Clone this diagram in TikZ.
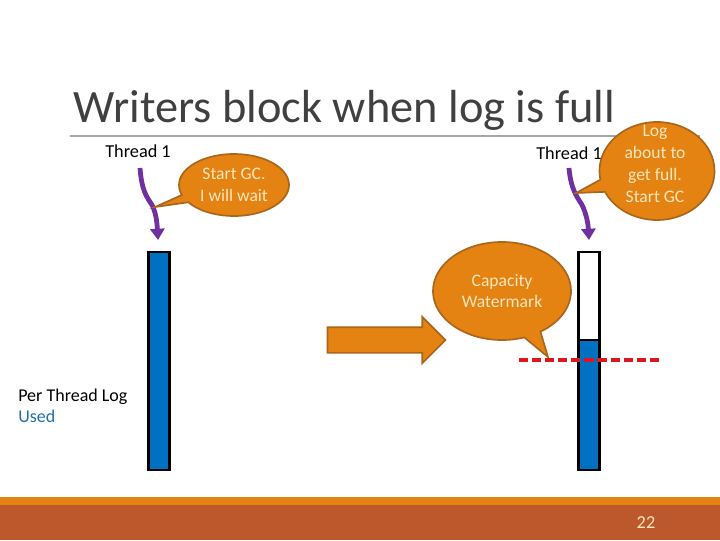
\documentclass[tikz,border=0pt]{standalone}
\usepackage{fontspec}
\setmainfont{Carlito}
\usepackage{tikz}
\usetikzlibrary{arrows.meta, shapes.callouts, shapes.arrows}
\definecolor{accent}{HTML}{E48312}
\definecolor{accentdark}{HTML}{A9661C}
\definecolor{band}{HTML}{BD582C}
\definecolor{logblue}{HTML}{0070C0}
\definecolor{wave}{HTML}{7030A0}
\definecolor{cream}{HTML}{FCE6BC}
\definecolor{usedblue}{HTML}{1F6FAE}
\definecolor{rulegray}{HTML}{A6A6A6}
\definecolor{titlegray}{HTML}{404040}
\definecolor{markred}{HTML}{E0161E}

\begin{document}
\begin{tikzpicture}[x=0.025cm, y=-0.025cm,
    bubble/.style={ellipse callout, fill=accent, draw=accentdark, line width=1.2pt,
        text=cream, align=center, inner sep=0pt,
        font=\fontsize{12.5}{15.5}\selectfont},
    bubbletext/.style={text=cream, align=center, font=\fontsize{12.5}{15.5}\selectfont},
    thread/.style={font=\fontsize{13}{15}\selectfont, anchor=base west, inner sep=0pt},
    wavearrow/.style={-{Triangle[length=8pt, width=10pt]}, draw=wave, line width=3.4pt},
    logbar/.style={draw=black, line width=1.6pt, minimum width=0.52cm, inner sep=0pt}]
    \useasboundingbox (0,0) rectangle (720,540);

    % title
    \node[anchor=base west, inner sep=0pt, text=titlegray, font=\fontsize{33}{38}\selectfont] (title) at (73,122) {Writers block when log is full};
    \coordinate (rule-l) at (70,136);
    \coordinate (rule-r) at (700,136);
    \draw[rulegray, line width=0.8pt] (rule-l) -- (rule-r);

    % threads
    \node[thread] (t1) at (105,157) {Thread 1};
    \node[thread] (t2) at (536,159) {Thread 1};

    % logs
    \node[logbar, fill=logblue, minimum height=5.45cm] (leftlog) at (159,361) {};
    \node[logbar, fill=white, minimum height=2.2cm] (freelog) at (589,296) {};
    \node[logbar, fill=logblue, minimum height=3.25cm] (usedlog) at (589,405) {};

    % wavy arrows
    \coordinate (w1s) at (140,168);
    \coordinate (w1e) at (158,240);
    \coordinate (w2s) at (569,168);
    \coordinate (w2e) at (589,240);
    \draw[wavearrow] (w1s) .. controls (142,196) and (150,200) .. (153,207) .. controls (156,214) and (157,222) .. (w1e);
    \draw[wavearrow] (w2s) .. controls (571,193) and (580,200) .. (583,207) .. controls (586,214) and (588,222) .. (w2e);

    % callouts
    \node[bubble, minimum width=2.75cm, minimum height=1.55cm, callout absolute pointer={(155,207)}] (startgc) at (234,185) {Start GC.\\I will wait};
    \node[bubble, minimum width=2.875cm, minimum height=2.45cm, callout absolute pointer={(576,193)}] (logfull) at (657,171) {};
    \node[bubbletext] (logtext) at (655,164) {Log\\about to\\get full.\\Start GC};
    \node[bubble, minimum width=3.45cm, minimum height=2.45cm, callout absolute pointer={(548,357)}] (capacity) at (502,291) {Capacity\\Watermark};

    % big arrow
    \node[single arrow, fill=accent, draw=accentdark, line width=1.2pt, inner xsep=0pt, inner ysep=0.3cm,
        minimum height=2.95cm, single arrow head extend=0.26cm,
        single arrow tip angle=90] (bigarrow) at (380,340) {};

    % watermark
    \coordinate (wm-l) at (519,360);
    \coordinate (wm-r) at (660,360);
    \draw[markred, line width=2.2pt, dash pattern=on 6.5pt off 2.8pt] (wm-l) -- (wm-r);

    % legend
    \node[anchor=north west, align=left, inner sep=0pt, font=\fontsize{12.8}{15}\selectfont] (legend) at (18,389) {Per Thread Log\\\textcolor{usedblue}{Used}};

    % footer
    \fill[accent] (0,497) rectangle (720,505);
    \fill[band] (0,505) rectangle (720,540);
    \node[text=cream, font=\fontsize{13}{15}\selectfont] (page) at (646,523) {22};
\end{tikzpicture}
\end{document}
